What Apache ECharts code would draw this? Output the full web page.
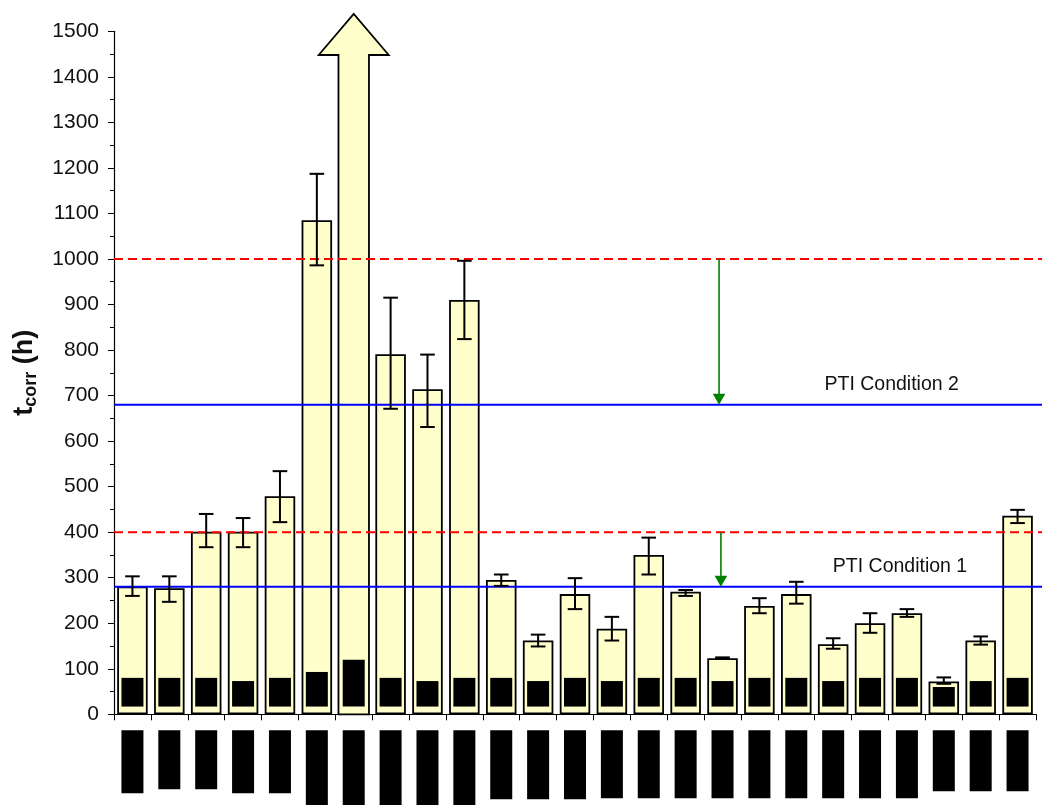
<!DOCTYPE html>
<html>
<head>
<meta charset="utf-8">
<script src="https://cdn.jsdelivr.net/npm/echarts@6/dist/echarts.min.js"></script>
<style>
  html, body { margin: 0; padding: 0; background: #ffffff; }
  #chart { width: 1042px; height: 805px; }
</style>
</head>
<body>
<div id="chart"></div>
<script>
// ---- data -------------------------------------------------------------
const specimens = ['S01','S02','S03','S04','S05','S06','S07','S08','S09','S10',
                   'S11','S12','S13','S14','S15','S16','S17','S18','S19','S20',
                   'S21','S22','S23','S24','S25'];

// mean time to corrosion t_corr (h); S07 runs off the scale and is drawn as an arrow
const tcorrMean = [281, 277, 401, 401, 479, 1085, null, 791, 714, 910,
                   295, 162, 264, 188, 350, 269, 123, 238, 264, 154,
                   200, 222, 72, 162, 436];
const tcorrLow  = [260, 247, 367, 367, 422, 986, null, 671, 631, 824,
                   282, 149, 231, 162, 307, 260, 122, 222, 243, 144,
                   179, 214, 67, 153, 420];
const tcorrHigh = [303, 303, 440, 431, 534, 1187, null, 915, 790, 996,
                   307, 175, 299, 214, 388, 273, 125, 255, 291, 167,
                   222, 231, 81, 171, 449];

// off-scale specimen: arrow head base and tip (h)
const offScaleIndex = 6;
const offScaleHeadBase = 1448;
const offScaleTip = 1538;

// reference run inside each bar (h)
const innerTop  = [80, 80, 80, 73, 80, 93, 120, 80, 73, 80,
                   80, 73, 80, 73, 80, 80, 73, 80, 80, 73,
                   80, 80, 60, 73, 80];
const innerBase = 17;

// y axis scale
const yMin = 0, yMax = 1500, yStep = 100;

// limits and PTI conditions (h)
const limitHigh = 1000, limitLow = 400;
const ptiCondition2 = 680, ptiCondition1 = 280;
const ptiLabels = ['PTI Condition 1', 'PTI Condition 2'];

// ---- styles -------------------------------------------------------------
const FONT = '"Liberation Sans", Arial, sans-serif';
const BAR_FILL = '#FFFFCC';
const BAR_WIDTH = 30.5;
// specimen marker blocks under the category axis (px heights)
const markerHeights = [63, 59, 59, 63, 63, 77, 77, 77, 77, 77,
                       69, 69, 69, 68, 68, 68, 68, 68, 68, 68,
                       68, 68, 61, 61, 61];

const markerRich = {};
markerHeights.forEach((h, i) => {
  markerRich['m' + i] = { width: 22, height: h, lineHeight: h, backgroundColor: '#000', fontSize: 1 };
});

const chart = echarts.init(document.getElementById('chart'), null, { renderer: 'canvas' });

const gridTop = 31.3, gridBottom = 90.7, gridLeft = 114;

const labelStyle = {
  show: true, position: 'top', distance: 10, color: '#111',
  fontSize: 19.5, fontFamily: FONT, formatter: p => p.name
};

// step-down arrows from each limit to its PTI condition (x in the overlay grid's 0..1 span)
const stepArrows = [
  [0.652, limitHigh, ptiCondition2],
  [0.654, limitLow, ptiCondition1]
];

const option = {
  animation: false,
  backgroundColor: '#ffffff',
  textStyle: { fontFamily: FONT },
  grid: [
    { left: gridLeft, right: 6, top: gridTop, bottom: gridBottom, outerBoundsMode: 'none', containLabel: false },
    { left: gridLeft, right: 0, top: gridTop, bottom: gridBottom, outerBoundsMode: 'none', containLabel: false }
  ],
  xAxis: [
    {
      type: 'category',
      gridIndex: 0,
      data: specimens,
      axisLine: { show: true, lineStyle: { color: '#000', width: 1.2 } },
      axisTick: { show: true, length: 6, alignWithLabel: false, interval: 0, lineStyle: { color: '#000', width: 1 } },
      axisLabel: {
        show: true,
        interval: 0,
        margin: 16,
        formatter: (v, i) => '{m' + i + '| }',
        rich: markerRich
      },
      splitLine: { show: false }
    },
    { type: 'value', gridIndex: 1, min: 0, max: 1, show: false }
  ],
  yAxis: [
    {
      type: 'value',
      gridIndex: 0,
      min: yMin, max: yMax, interval: yStep,
      axisLine: { show: true, lineStyle: { color: '#000', width: 1.2 } },
      axisTick: { show: true, length: 6, lineStyle: { color: '#000', width: 1 } },
      minorTick: { show: true, splitNumber: 2, length: 4, lineStyle: { color: '#000', width: 1 } },
      splitLine: { show: false },
      minorSplitLine: { show: false },
      axisLabel: { color: '#111', fontSize: 21, fontFamily: FONT, margin: 15, formatter: v => String(v) },
      name: '{t|t}{s|corr}{t| (h)}',
      nameLocation: 'middle',
      nameRotate: 90,
      nameGap: 74,
      nameTextStyle: {
        fontFamily: FONT,
        rich: {
          t: { fontSize: 27, fontWeight: 'bold', color: '#111', fontFamily: FONT, lineHeight: 30 },
          s: { fontSize: 18, fontWeight: 'bold', color: '#111', fontFamily: FONT, lineHeight: 30, verticalAlign: 'bottom' }
        }
      }
    },
    { type: 'value', gridIndex: 1, min: yMin, max: yMax, show: false }
  ],
  series: [
    // main bars
    {
      type: 'bar',
      xAxisIndex: 0, yAxisIndex: 0,
      data: tcorrMean,
      barWidth: BAR_WIDTH,
      itemStyle: { color: BAR_FILL, borderColor: '#000', borderWidth: 1.8 },
      z: 2,
      silent: true
    },
    // off-scale bar drawn as an arrow
    {
      type: 'custom',
      xAxisIndex: 0, yAxisIndex: 0,
      data: [[offScaleIndex, offScaleHeadBase, offScaleTip]],
      clip: false,
      z: 2,
      silent: true,
      renderItem: (params, api) => {
        const i = api.value(0);
        const base = api.coord([i, yMin]);
        const hb = api.coord([i, api.value(1)]);
        const tip = api.coord([i, api.value(2)]);
        const sh = BAR_WIDTH / 2;
        const hh = 35;
        return {
          type: 'polygon',
          shape: { points: [
            [base[0] - sh, base[1]], [base[0] - sh, hb[1]], [base[0] - hh, hb[1]],
            [tip[0], tip[1]],
            [base[0] + hh, hb[1]], [base[0] + sh, hb[1]], [base[0] + sh, base[1]]
          ] },
          style: { fill: BAR_FILL, stroke: '#000', lineWidth: 1.8, lineJoin: 'miter' }
        };
      }
    },
    // reference run blocks inside bars
    {
      type: 'custom',
      xAxisIndex: 0, yAxisIndex: 0,
      data: innerTop.map((v, i) => [i, innerBase, v]),
      z: 3,
      silent: true,
      renderItem: (params, api) => {
        const i = api.value(0);
        const lo = api.coord([i, api.value(1)]);
        const hi = api.coord([i, api.value(2)]);
        return {
          type: 'rect',
          shape: { x: lo[0] - 11, y: hi[1], width: 22, height: lo[1] - hi[1] },
          style: { fill: '#000' }
        };
      }
    },
    // error bars
    {
      type: 'custom',
      xAxisIndex: 0, yAxisIndex: 0,
      data: specimens.map((s, i) => [i, tcorrLow[i], tcorrHigh[i]]).filter(d => d[1] != null),
      z: 6,
      silent: true,
      renderItem: (params, api) => {
        const i = api.value(0);
        const lo = api.coord([i, api.value(1)]);
        const hi = api.coord([i, api.value(2)]);
        const half = 7.3;
        const st = { stroke: '#000', lineWidth: 2 };
        return {
          type: 'group',
          children: [
            { type: 'line', shape: { x1: lo[0], y1: lo[1], x2: hi[0], y2: hi[1] }, style: st },
            { type: 'line', shape: { x1: lo[0] - half, y1: lo[1], x2: lo[0] + half, y2: lo[1] }, style: st },
            { type: 'line', shape: { x1: hi[0] - half, y1: hi[1], x2: hi[0] + half, y2: hi[1] }, style: st }
          ]
        };
      }
    },
    // limit lines (dashed red)
    {
      type: 'line', xAxisIndex: 1, yAxisIndex: 1, z: 5, silent: true,
      data: [[0, limitHigh], [1, limitHigh]],
      symbol: 'none',
      lineStyle: { color: '#FF0000', width: 2, type: [9, 5] }
    },
    {
      type: 'line', xAxisIndex: 1, yAxisIndex: 1, z: 5, silent: true,
      data: [[0, limitLow], [1, limitLow]],
      symbol: 'none',
      lineStyle: { color: '#FF0000', width: 2, type: [9, 5] }
    },
    // PTI condition lines (blue)
    {
      type: 'line', xAxisIndex: 1, yAxisIndex: 1, z: 5, silent: true,
      data: [[0, ptiCondition2], [1, ptiCondition2]],
      symbol: 'none',
      lineStyle: { color: '#0000FF', width: 2 },
      markPoint: {
        silent: true,
        symbol: 'rect', symbolSize: 0,
        label: labelStyle,
        data: [{ name: ptiLabels[1], coord: [0.838, ptiCondition2] }]
      }
    },
    {
      type: 'line', xAxisIndex: 1, yAxisIndex: 1, z: 5, silent: true,
      data: [[0, ptiCondition1], [1, ptiCondition1]],
      symbol: 'none',
      lineStyle: { color: '#0000FF', width: 2 },
      markPoint: {
        silent: true,
        symbol: 'rect', symbolSize: 0,
        label: labelStyle,
        data: [{ name: ptiLabels[0], coord: [0.847, ptiCondition1] }]
      }
    },
    // green step-down arrows
    {
      type: 'custom',
      xAxisIndex: 1, yAxisIndex: 1,
      data: stepArrows,
      z: 7,
      silent: true,
      renderItem: (params, api) => {
        const x = api.value(0);
        const from = api.coord([x, api.value(1)]);
        const to = api.coord([x, api.value(2)]);
        const headH = 11, headHalf = 6.3;
        return {
          type: 'group',
          children: [
            { type: 'line', shape: { x1: from[0], y1: from[1], x2: to[0], y2: to[1] - headH + 1 },
              style: { stroke: '#008000', lineWidth: 1.6 } },
            { type: 'polygon', shape: { points: [
                [to[0] - headHalf, to[1] - headH], [to[0] + headHalf, to[1] - headH], [to[0], to[1]]
              ] },
              style: { fill: '#008000' } }
          ]
        };
      }
    }
  ]
};

chart.setOption(option);
</script>
</body>
</html>
